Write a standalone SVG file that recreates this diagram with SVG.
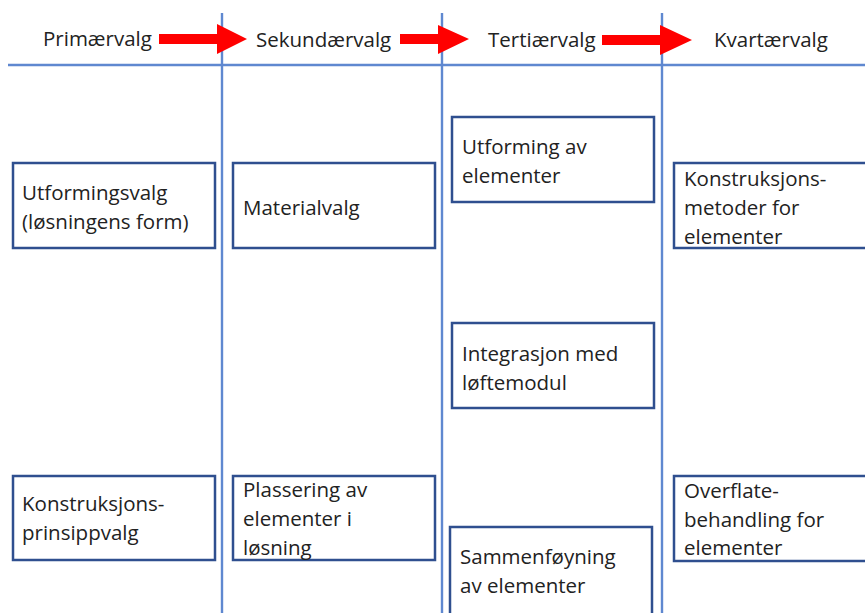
<svg xmlns="http://www.w3.org/2000/svg" width="865" height="613" viewBox="0 0 865 613">
<style>
.lane{stroke:#5F88D0;stroke-width:2.4;fill:none}
.box{fill:#fff;stroke:#2F4F8F;stroke-width:2.5}
.t{font-family:"Open Sans","Liberation Sans",sans-serif;font-size:20.5px;fill:#222}
.h{font-family:"Open Sans","Liberation Sans",sans-serif;font-size:20.5px;fill:#222}
.arr{fill:#FF0000}
</style>
<rect width="865" height="613" fill="#fff"/>
<g id="lanes">
<line class="lane" x1="8" y1="65" x2="865" y2="65"/>
<line class="lane" x1="222" y1="13" x2="222" y2="613"/>
<line class="lane" x1="442" y1="13" x2="442" y2="613"/>
<line class="lane" x1="662" y1="13" x2="662" y2="613"/>
</g>
<g id="headers">
<text class="h" x="43" y="46">Primærvalg</text>
<text class="h" x="256" y="47">Sekundærvalg</text>
<text class="h" x="488" y="47">Tertiærvalg</text>
<text class="h" x="714" y="47">Kvartærvalg</text>
</g>
<g id="connectors">
<polygon class="arr" points="159,34 217,34 217,24 247,39 217,54 217,44 159,44"/>
<polygon class="arr" points="400,34 438,34 438,25 469,39 438,54 438,44 400,44"/>
<polygon class="arr" points="602,35 660,35 660,25 692,40 660,55 660,45 602,45"/>
</g>
<g id="n-utformingsvalg">
<rect class="box" x="13" y="163" width="202" height="85"/>
<text class="t" x="22" y="200">Utformingsvalg</text>
<text class="t" x="22" y="229">(løsningens form)</text>
</g>
<g id="n-konstruksjonsprinsipp">
<rect class="box" x="13" y="476" width="202" height="84"/>
<text class="t" x="22" y="511">Konstruksjons-</text>
<text class="t" x="22" y="540">prinsippvalg</text>
</g>
<g id="n-materialvalg">
<rect class="box" x="233" y="163" width="202" height="85"/>
<text class="t" x="243" y="215">Materialvalg</text>
</g>
<g id="n-plassering">
<rect class="box" x="233" y="476" width="202" height="84"/>
<text class="t" x="243" y="497">Plassering av</text>
<text class="t" x="243" y="526">elementer i</text>
<text class="t" x="243" y="555">løsning</text>
</g>
<g id="n-utforming-elementer">
<rect class="box" x="452" y="117" width="202" height="85"/>
<text class="t" x="462" y="154">Utforming av</text>
<text class="t" x="462" y="183">elementer</text>
</g>
<g id="n-integrasjon">
<rect class="box" x="452" y="323" width="202" height="85"/>
<text class="t" x="462" y="361">Integrasjon med</text>
<text class="t" x="462" y="390">løftemodul</text>
</g>
<g id="n-sammenfoyning">
<rect class="box" x="450" y="527" width="202" height="95"/>
<text class="t" x="460" y="564">Sammenføyning</text>
<text class="t" x="460" y="593">av elementer</text>
</g>
<g id="n-konstruksjonsmetoder">
<rect class="box" x="674" y="163" width="200" height="85"/>
<text class="t" x="684" y="186">Konstruksjons-</text>
<text class="t" x="684" y="215">metoder for</text>
<text class="t" x="684" y="244">elementer</text>
</g>
<g id="n-overflate">
<rect class="box" x="674" y="476" width="200" height="85"/>
<text class="t" x="684" y="498">Overflate-</text>
<text class="t" x="684" y="527">behandling for</text>
<text class="t" x="684" y="555">elementer</text>
</g>
</svg>
